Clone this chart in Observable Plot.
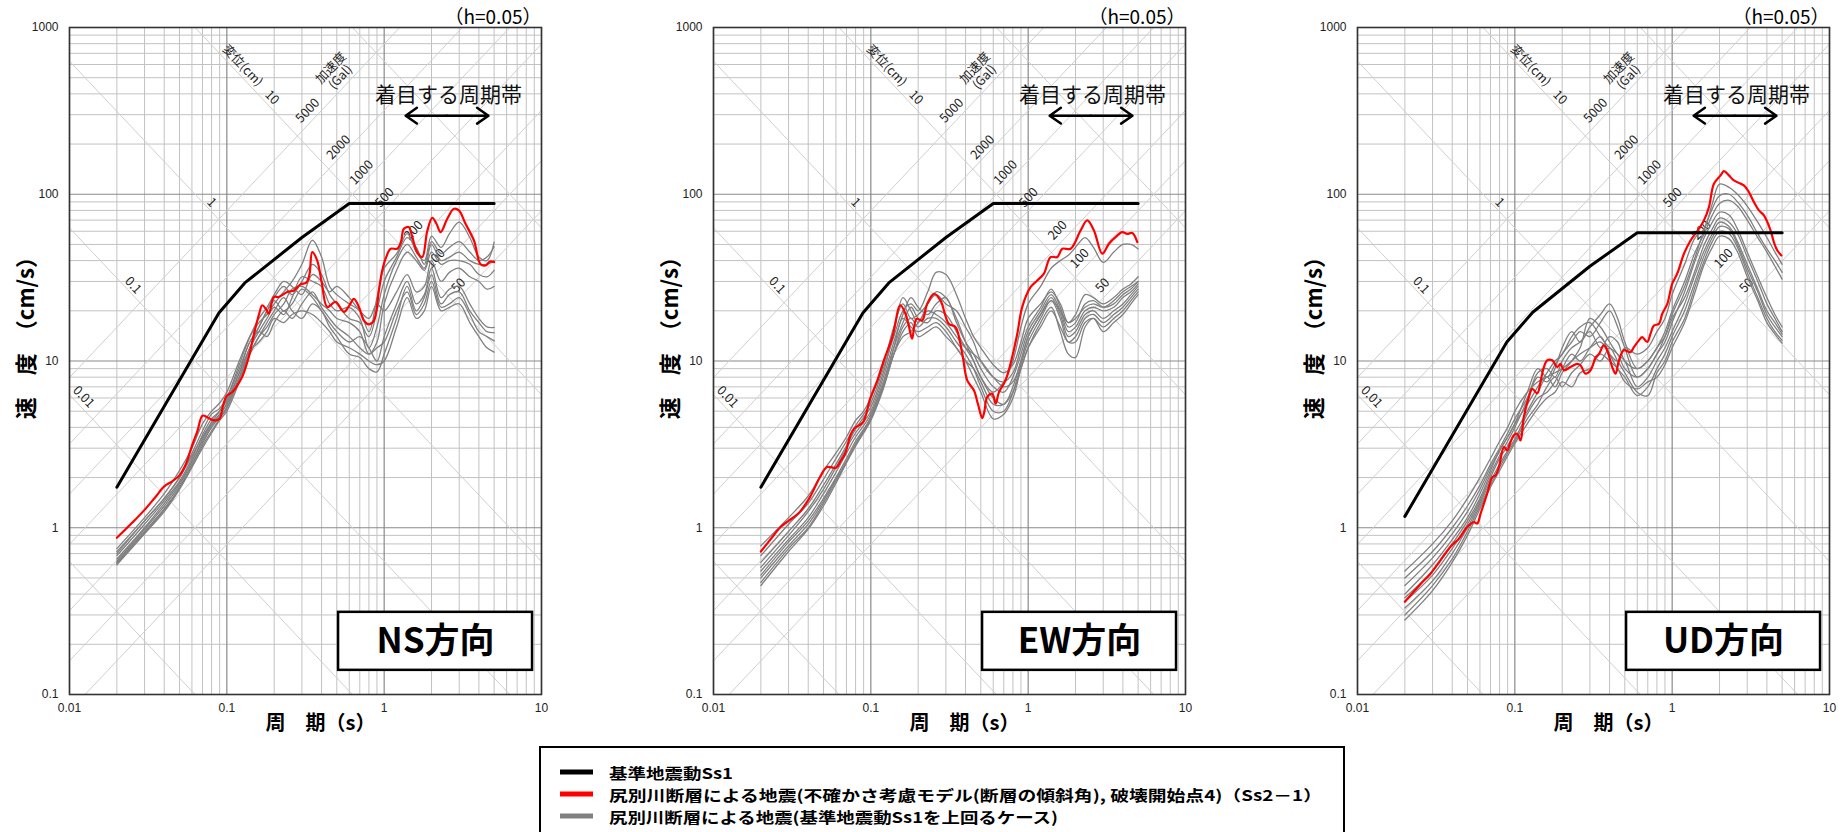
<!DOCTYPE html>
<html lang="ja">
<head>
<meta charset="utf-8">
<script src="https://cdn.jsdelivr.net/npm/d3@7"></script>
<script src="https://cdn.jsdelivr.net/npm/@observablehq/plot@0.6"></script>
<style>
  html, body { margin:0; padding:0; background:#fff; }
  body { width:1845px; height:832px; overflow:hidden; position:relative; }
  .panel { position:absolute; top:0; width:557px; height:739px; }
  #legend { position:absolute; left:539px; top:746px; }
</style>
</head>
<body>
<div id="p1" class="panel" style="left:0px"></div>
<div id="p2" class="panel" style="left:644px"></div>
<div id="p3" class="panel" style="left:1288px"></div>
<svg id="legend" width="808" height="90"></svg>
<script>
// ---------------- axis ticks ----------------
const xTickValues = [0.01, 0.1, 1, 10];
const xTickLabels = ["0.01", "0.1", "1", "10"];
const yTickValues = [0.1, 1, 10, 100, 1000];
const yTickLabels = ["0.1", "1", "10", "100", "1000"];

// tripartite guide levels
const dispLevels = [0.001, 0.01, 0.1, 1, 10, 100];         // displacement (cm)
const accLevels = [50, 100, 200, 500, 1000, 2000, 5000];   // acceleration (Gal)
const dispLabelTexts = ["0.01", "0.1", "1", "10", "変位(cm)"];
const accLabelTexts = ["5000", "2000", "1000", "500", "200", "100", "50", "加速度\n(Gal)"];

// ---------------- design spectrum Ss1 ----------------
const ss1Periods = [0.02, 0.089, 0.13, 0.3, 0.6, 5.0];
const ss1Horizontal = [1.75, 19.4, 29.4, 55, 88, 88];
const ss1Vertical = [1.17, 13.0, 19.6, 37.0, 58.8, 58.8];

// ---------------- red : Ss2-1 ----------------
const nsRedT = [0.02,0.025,0.03,0.035,0.04,0.045,0.05,0.055,0.06,0.065,0.07,0.075,0.08,0.085,0.09,0.095,0.1,0.108,0.115,0.125,0.138,0.149,0.16,0.168,0.177,0.185,0.199,0.214,0.242,0.267,0.294,0.32,0.335,0.349,0.375,0.4,0.435,0.491,0.555,0.6,0.642,0.691,0.743,0.8,0.861,0.926,0.972,1.03,1.1,1.21,1.28,1.334,1.436,1.5,1.62,1.746,1.878,2.022,2.15,2.285,2.518,2.775,2.985,3.29,3.72,4.1,4.41,4.7,5.0];
const nsRedV = [0.87,1.07,1.28,1.52,1.77,1.9,2.06,2.42,3.1,3.8,4.7,4.6,4.45,4.4,4.5,5.5,6.2,6.5,7.0,8.0,10.6,14.6,19,21.6,20.5,19.2,24.2,24.2,25.9,26.5,28.8,29.5,33,45,40.1,30,21.1,22.6,19.7,21.5,23.6,21.1,17.5,16.6,17.5,26.5,34.9,42,47.1,47.1,52,62.1,63.5,56.6,45,42,60,72.3,66.5,59.3,71.3,81.8,80,66.5,52.8,38,37.4,39.5,39.2];

const ewRedT = [0.02,0.023,0.0267,0.03,0.0347,0.0406,0.0475,0.0527,0.0601,0.0641,0.0687,0.0743,0.0783,0.0892,0.099,0.11,0.121,0.137,0.154,0.166,0.175,0.183,0.195,0.212,0.228,0.252,0.277,0.313,0.345,0.381,0.41,0.452,0.48,0.51,0.525,0.549,0.591,0.621,0.652,0.718,0.792,0.852,0.917,1.035,1.142,1.259,1.388,1.53,1.647,1.861,2.155,2.375,2.618,2.958,3.26,3.59,3.96,4.26,4.59,4.94];
const ewRedV = [0.72,0.85,1.01,1.1,1.22,1.5,2.01,2.31,2.29,2.5,2.79,3.6,3.93,4.3,5.94,7.65,10.1,13.9,21.6,19.2,16,13.6,17.9,17.5,22.0,25.3,23.1,16.7,16.0,11.1,7.65,6.67,5.5,4.55,4.9,6.08,6.37,5.55,6.5,7.65,10.6,14.5,21.1,27.7,30.4,33.4,42,42,47.1,47.1,60.7,69.7,60.7,44,50.5,55.3,59.3,57.9,58.5,51.6];

const udRedT = [0.02,0.0252,0.0291,0.0337,0.039,0.0441,0.0498,0.0549,0.0577,0.0605,0.0667,0.0718,0.0754,0.0792,0.0852,0.0894,0.0939,0.0986,0.1035,0.1087,0.114,0.123,0.129,0.139,0.146,0.153,0.161,0.173,0.186,0.195,0.205,0.226,0.249,0.262,0.281,0.303,0.326,0.342,0.368,0.386,0.416,0.437,0.459,0.493,0.544,0.571,0.615,0.645,0.694,0.729,0.765,0.824,0.865,0.931,1.0,1.077,1.188,1.309,1.479,1.592,1.713,1.842,2.031,2.133,2.295,2.468,2.856,3.074,3.31,3.56,3.83,4.22,4.43,4.66,4.94];
const udRedV = [0.36,0.46,0.53,0.64,0.77,0.86,1.01,1.08,1.06,1.21,1.6,2.01,2.06,2.31,3.05,2.91,3.27,3.58,3.66,3.34,4.6,6.1,6.8,6.4,7.6,9.2,10.1,10.1,9.2,9.6,8.8,9.2,9.6,9.4,8.4,8.8,10.5,11.0,12.4,11.6,9.2,8.4,10.1,11.6,11.3,12.1,13.3,13.9,13.0,14.6,16.3,16.7,19.2,22,29,33.4,44,52.8,62.1,69.7,83.7,115.6,129.7,137.7,129.7,121,113,103,89.7,80,74.6,60.7,51.6,46,43];

// ---------------- gray : other cases ----------------
const grayPeriods = [0.02,0.03,0.04,0.05,0.06,0.07,0.08,0.09,0.1,0.12,0.14,0.16,0.18,0.2,0.23,0.26,0.3,0.35,0.4,0.45,0.5,0.6,0.7,0.8,0.9,1.0,1.2,1.4,1.6,1.8,2.0,2.3,2.6,3.0,3.5,4.0,4.5,5.0];

const nsGray = [
  [0.75,1.15,1.6,2.2,3.0,4.2,5.0,5.6,6.5,10,14,17,19,22,26,30,38,53,42,28,25,22,20,15,24,36,44,58,45,40,56,48,58,68,55,42,40,51.6],
  [0.7,1.1,1.5,2.0,2.8,3.8,4.8,5.2,6.0,9,13,16,20,24,28,25,30,38,33,25,22,18,17,14,20,30,42,55,48,38,52,44,48,52,45,40,42,48.4],
  [0.68,1.05,1.45,1.9,2.6,3.6,4.5,5.0,5.8,8.5,12,15,18,21,19,24,32,30,28,22,20,21,18,12,16,25,40,50,42,36,50,40,42,45,40,38,38,40],
  [0.65,1.0,1.4,1.85,2.5,3.4,4.2,4.8,5.5,8,11,14,16,19,22,27,28,25,22,20,18,17,15,11,13,22,35,45,40,35,45,38,40,40,38,33,32,35],
  [0.72,1.1,1.5,2.0,2.7,3.5,4.3,5.0,6.0,9.5,14,18,21,25,30,28,25,33,30,26,28,24,20,18,22,20,26,33,26,28,40,30,34,36,32,30,27,28],
  [0.62,0.95,1.3,1.75,2.4,3.2,4.0,4.6,5.3,8.0,12,16,20,23,20,22,27,24,20,17,15,13,14,12,10,14,22,30,22,25,36,24,27,28,22,18,16,15.9],
  [0.6,0.92,1.25,1.7,2.3,3.0,3.7,4.4,5.0,7.5,11,14,17,20,24,20,18,22,20,16,14,11,10.5,9,8.6,11,18,28,20,24,33,22,25,26,20,17,15,14.8],
  [0.63,0.98,1.35,1.8,2.5,3.3,4.1,4.7,5.6,8.5,13,15,14,17,20,18,22,26,21,18,16,14,12,11,12,13,20,26,19,22,30,21,22,24,19,15,14,13.2],
  [0.61,0.93,1.28,1.72,2.35,3.1,3.8,4.5,5.2,7.8,11.5,13,15,18,17,19,20,19,17,15,13,12,11,10,9.5,10,16,24,18,20,28,20,21,22,17,14,12,11.3]
];

const ewGray = [
  [0.78,1.15,1.55,2.2,2.8,3.5,4.4,5.0,6.0,9.5,16,22,18,19,22,26,24,18,13,10,8,6.5,7.5,10,16,22,28,36,40,43,48,55,48,39,45,50,50,47],
  [0.68,1.05,1.4,1.95,2.6,3.3,4.1,4.8,5.6,9,14,20,22,20,26,34,33,25,18,14,12,9.5,8.5,9.5,13,18,22,26,22,17,19,25,24,22,24,27,29,32],
  [0.62,0.95,1.3,1.8,2.4,3.1,3.9,4.6,5.3,8.5,15,24,20,17,22,25,22,20,16,13,10,8,7.5,8.5,12,16,21,27,21,16,17,22,23,21,22,25,27,30],
  [0.58,0.9,1.25,1.7,2.3,3.0,3.7,4.3,5.0,8,13,19,24,21,19,22,24,17,13,11,9,7,6.5,8,11,15,20,25,20,15,16,20,21,20,21,24,26,29],
  [0.55,0.85,1.15,1.6,2.15,2.8,3.5,4.1,4.8,7.5,12,17,21,18,17,20,19,15,12,10,8,6,5.5,7,10,14,19,24,19,14,15,19,20,18,20,22,25,28],
  [0.52,0.82,1.1,1.5,2.0,2.6,3.3,3.9,4.6,7,11,16,18,16,18,18,16,13,11,9,7,5,5,6.5,9.5,13,18,23,18,13,14,18,19,17,19,21,24,27],
  [0.5,0.78,1.05,1.45,1.95,2.5,3.2,3.8,4.5,7,12,18,16,15,16,17,15,12,10,8,6.5,4.5,4.8,6,9,12,17,21,15,11,10.5,16,18,16,18,20,23,26],
  [0.47,0.75,1.0,1.4,1.9,2.5,3.1,3.7,4.4,6.8,11,15,17,14,15,16,14,12,10,9,7.5,5.5,5.5,6.5,9,12,16,20,16,13,13,17,18,15,17,19,22,25],
  [0.45,0.72,0.98,1.35,1.85,2.45,3.1,3.8,4.6,7.2,11,14,15,17,20,19,17,14,12,11,10,8,7,7.5,10,14,19,23,20,17,18,21,22,21,23,26,28,30]
];

const udGray = [
  [0.55,0.8,1.1,1.5,2.0,2.6,3.3,4.0,5.0,6.5,7.5,8.0,8.5,9,10,11,12,13,11,10,12,11,12,15,18,25,38,55,62,88,115,110,100,85,68,55,45,38],
  [0.5,0.72,1.0,1.35,1.8,2.4,3.0,3.7,4.5,6.0,8.5,9,8,10,12,13,15,12,14,13,10,9,10,12,15,20,30,45,58,75,88,92,85,70,55,45,37,31],
  [0.4,0.6,0.85,1.15,1.6,2.2,2.9,3.5,4.2,5.5,7,8.5,10,11,14,16,17,14,12,11,9,8,9,11,13,17,26,40,55,68,78,75,62,45,32,24,19,16],
  [0.38,0.55,0.8,1.1,1.5,2.1,2.7,3.3,4.0,5.8,8,7.5,9,12,15,13,16,19,22,18,13,9,10,12,14,18,24,35,50,62,72,68,58,42,30,22,18,15],
  [0.36,0.52,0.75,1.05,1.45,2.0,2.6,3.1,3.7,5.0,6.5,8,7,8.5,10,12,18,16,13,11,10,7,8,10,12,15,22,33,46,58,68,64,52,38,27,20,17,14.5],
  [0.33,0.48,0.7,1.0,1.4,1.9,2.4,2.9,3.4,4.8,6.0,6.5,7.5,9,11,10,12,14,11,9,8,6.2,7,9,11,14,20,30,43,55,64,62,50,36,26,19,16,14],
  [0.3,0.45,0.65,0.95,1.35,1.8,2.3,2.8,3.3,4.5,5.5,7,8,7,8.5,9.5,11,10,12,10,8.5,6.5,6.2,8.5,10,13,18,28,40,52,60,58,48,34,24,18,15,13.3],
  [0.28,0.42,0.62,0.9,1.3,1.75,2.2,2.7,3.2,4.2,5.2,6,6.5,7.5,7,8.5,9,11,10,9,7.5,6.8,7.5,8,9.5,12,17,26,38,48,56,54,45,32,23,17,14.5,12.8],
  [0.45,0.66,0.92,1.25,1.7,2.3,2.9,3.5,4.2,6.5,9,8,9.5,11,13,15,14,17,20,16,12,8,9,11,14,19,28,42,62,82,98,100,90,75,58,47,40,34]
];

// ---------------- legend ----------------
const legendLabels = [
  "基準地震動Ss1",
  "尻別川断層による地震(不確かさ考慮モデル(断層の傾斜角), 破壊開始点4)（Ss2－1）",
  "尻別川断層による地震(基準地震動Ss1を上回るケース)"
];
const legendColors = ["#000000", "#ff0000", "#808080"];
const panelNames = ["NS方向", "EW方向", "UD方向"];

// ---------------- drawing ----------------
const FONT_NUM = "'Liberation Sans', Arial, sans-serif";
const FONT_JP = "'Noto Sans CJK JP', 'Noto Sans', sans-serif";

// annotation placement (period, velocity) — shared by all panels
const dispLabelAt = [[0.01227, 6.08], [0.02535, 28.4], [0.080, 89.3], [0.1936, 380], [0.1259, 591]];
const accLabelAt = [[0.326, 317.6], [0.513, 191], [0.718, 135], [1.006, 95.7], [1.538, 60.7], [2.12, 41.2], [2.97, 28.4], [0.491, 537]];

function makePanel(name, redT, redV, gray, ss1V) {
  const width = 557, height = 739, mL = 69, mR = 16, mT = 27, mB = 45;
  const ang = Math.atan(((height - mT - mB) / 4) / ((width - mL - mR) / 3)) * 180 / Math.PI;

  const minorX = [], minorY = [];
  for (const d of xTickValues.slice(0, -1)) for (let m = 2; m <= 9; m++) minorX.push(d * m);
  for (const d of yTickValues.slice(0, -1)) for (let m = 2; m <= 9; m++) minorY.push(d * m);

  const diag = [];
  dispLevels.forEach((D, k) => {
    const c = 2 * Math.PI * D;
    const t0 = Math.max(0.01, c / 1000), t1 = Math.min(10, c / 0.1);
    if (t0 < t1) diag.push({k: "d" + k, T: t0, V: c / t0}, {k: "d" + k, T: t1, V: c / t1});
  });
  accLevels.forEach((A, k) => {
    const c = A / (2 * Math.PI);
    const t0 = Math.max(0.01, 0.1 / c), t1 = Math.min(10, 1000 / c);
    if (t0 < t1) diag.push({k: "a" + k, T: t0, V: c * t0}, {k: "a" + k, T: t1, V: c * t1});
  });

  const dispLab = dispLabelTexts.map((t, i) => ({t, T: dispLabelAt[i][0], V: dispLabelAt[i][1]}));
  const accLab = accLabelTexts.map((t, i) => ({t, T: accLabelAt[i][0], V: accLabelAt[i][1]}));

  const grayData = gray.flatMap((vals, k) => vals.map((V, i) => ({k, T: grayPeriods[i], V})));
  const redData = redT.map((T, i) => ({T, V: redV[i]}));
  const ss1Data = ss1Periods.map((T, i) => ({T, V: ss1V[i]}));

  const band = [{a: 2.5, b1: 1.37, b2: 4.6, v: 296}];
  const box = [{x1: 0.513, x2: 8.77, y1: 0.1396, y2: 0.311, tx: 2.12, ty: 0.208, t: name}];

  return Plot.plot({
    width, height, marginLeft: mL, marginRight: mR, marginTop: mT, marginBottom: mB,
    x: {type: "log", domain: [0.01, 10], axis: null},
    y: {type: "log", domain: [0.1, 1000], axis: null},
    style: {fontFamily: FONT_NUM, background: "white", overflow: "visible"},
    marks: [
      Plot.ruleX(minorX, {x: d => d, stroke: "#c2c2c2", strokeWidth: 1}),
      Plot.ruleY(minorY, {y: d => d, stroke: "#c2c2c2", strokeWidth: 1}),
      Plot.ruleX(xTickValues, {x: d => d, stroke: "#8a8a8a", strokeWidth: 1.2}),
      Plot.ruleY(yTickValues, {y: d => d, stroke: "#8a8a8a", strokeWidth: 1.2}),
      Plot.line(diag, {x: "T", y: "V", z: "k", stroke: "#cfcfcf", strokeWidth: 1}),
      Plot.text(dispLab, {x: "T", y: "V", text: "t", rotate: ang, fontSize: 12.5, fill: "#222", fontFamily: FONT_JP}),
      Plot.text(accLab, {x: "T", y: "V", text: "t", rotate: -ang, fontSize: 12.5, fill: "#222", fontFamily: FONT_JP, lineHeight: 1.05}),
      Plot.text(["着目する周期帯"], {x: () => 2.56, y: () => 391, text: d => d, fontSize: 21, fontFamily: FONT_JP, fill: "#111"}),
      Plot.arrow(band, {x1: "a", x2: "b1", y1: "v", y2: "v", stroke: "#000", strokeWidth: 2.5, headLength: 11, headAngle: 70}),
      Plot.arrow(band, {x1: "a", x2: "b2", y1: "v", y2: "v", stroke: "#000", strokeWidth: 2.5, headLength: 11, headAngle: 70}),
      Plot.line(grayData, {x: "T", y: "V", z: "k", stroke: "#808080", strokeWidth: 1.3, curve: "catmull-rom"}),
      Plot.line(redData, {x: "T", y: "V", stroke: "#ff0000", strokeWidth: 2.2, curve: "catmull-rom"}),
      Plot.line(ss1Data, {x: "T", y: "V", stroke: "#000000", strokeWidth: 3}),
      Plot.frame({stroke: "#333", strokeWidth: 1.6}),
      Plot.rect(box, {x1: "x1", x2: "x2", y1: "y1", y2: "y2", fill: "white", stroke: "#000", strokeWidth: 2.5}),
      Plot.text(box, {x: "tx", y: "ty", text: "t", fontSize: 35, fontWeight: "bold", fontFamily: FONT_JP, fill: "#000"}),
      Plot.text(xTickValues, {x: d => d, text: (d, i) => xTickLabels[i], frameAnchor: "bottom", lineAnchor: "middle", dy: 14, fontSize: 12, fill: "#222"}),
      Plot.text(yTickValues, {y: d => d, text: (d, i) => yTickLabels[i], frameAnchor: "left", textAnchor: "end", dx: -11, fontSize: 12, fill: "#222"}),
      Plot.text(["周　期（s）"], {text: d => d, frameAnchor: "bottom", lineAnchor: "middle", textAnchor: "middle", dy: 29, dx: 15, fontSize: 20, fontWeight: "bold", fontFamily: FONT_JP}),
      Plot.text(["速　度　（cm/s）"], {text: d => d, y: () => 14.8, frameAnchor: "left", textAnchor: "middle", lineAnchor: "middle", dx: -43, rotate: -90, fontSize: 22, fontWeight: "bold", fontFamily: FONT_JP}),
      Plot.text(["（h=0.05）"], {text: d => d, frameAnchor: "top-right", textAnchor: "end", lineAnchor: "middle", dy: -10, fontSize: 19, fontFamily: FONT_JP})
    ]
  });
}

document.getElementById("p1").append(makePanel(panelNames[0], nsRedT, nsRedV, nsGray, ss1Horizontal));
document.getElementById("p2").append(makePanel(panelNames[1], ewRedT, ewRedV, ewGray, ss1Horizontal));
document.getElementById("p3").append(makePanel(panelNames[2], udRedT, udRedV, udGray, ss1Vertical));

// legend
(function () {
  const svg = d3.select("#legend");
  svg.append("rect").attr("x", 1).attr("y", 1).attr("width", 804).attr("height", 110)
    .attr("fill", "white").attr("stroke", "#000").attr("stroke-width", 2);
  const rowY = [26, 48, 70];
  const textLen = [124, 713, 449];
  legendLabels.forEach((lab, i) => {
    svg.append("line").attr("x1", 21).attr("x2", 54).attr("y1", rowY[i]).attr("y2", rowY[i])
      .attr("stroke", legendColors[i]).attr("stroke-width", 5);
    svg.append("text").attr("x", 70).attr("y", rowY[i]).attr("dominant-baseline", "central")
      .attr("font-family", FONT_JP).attr("font-weight", "bold").attr("font-size", 15)
      .attr("textLength", textLen[i]).attr("lengthAdjust", "spacingAndGlyphs").text(lab);
  });
})();
</script>
</body>
</html>
